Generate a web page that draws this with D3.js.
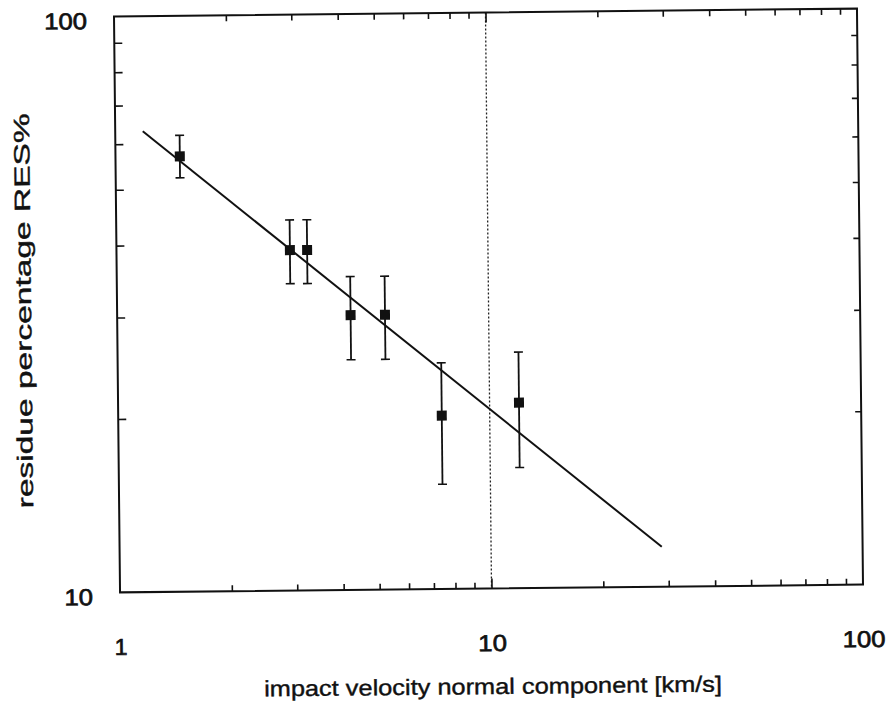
<!DOCTYPE html>
<html>
<head>
<meta charset="utf-8">
<script src="https://cdn.jsdelivr.net/npm/d3@7"></script>
<style>
  html, body { margin: 0; padding: 0; background: #fff; }
  svg { display: block; }
  text { font-family: "Liberation Sans", Arial, Helvetica, sans-serif; fill: #111; }
</style>
</head>
<body>
<svg id="chart" width="891" height="704"></svg>
<script>
// ---- data ----
const velocity = [1.49, 2.93, 3.26, 4.25, 5.26, 7.43, 12.0];   // km/s
const residue  = [57, 39, 39, 30, 30, 20, 21];                 // RES%
const errLow   = [52.3, 34.1, 34.1, 25.1, 25.1, 15.2, 16.2];
const errHigh  = [62, 44, 44, 35, 35, 24.7, 25.7];
const fitX     = [1.186, 28.8];
const fitY     = [63.1, 11.73];
const markerX  = [10];                                          // dotted vertical line
const xLabels  = [1, 10, 100];
const yLabels  = [10, 100];
const xMinor   = [2,3,4,5,6,7,8,9,20,30,40,50,60,70,80,90];
const yMinor   = [20,30,40,50,60,70,80,90];
const xTitle   = "impact velocity normal component [km/s]";
const yTitle   = "residue percentage RES%";

const L = 117, R = 860, T = 12.5, B = 588.5;
const svg = d3.select("#chart");
svg.append("rect").attr("width", 891).attr("height", 704).attr("fill", "#fff");
const g = svg.append("g").attr("transform", "rotate(-0.6, 488.5, 300.5)");

const x = d3.scaleLog().domain([1, 100]).range([L, R]);
const y = d3.scaleLog().domain([10, 100]).range([B, T]);

// dotted line at x = 10
g.selectAll("line.mark").data(markerX).enter().append("line")
  .attr("x1", d => x(d)).attr("x2", d => x(d))
  .attr("y1", T).attr("y2", B)
  .attr("stroke", "#222").attr("stroke-width", 1.3).attr("stroke-dasharray", "2,2");

// axes ticks (inward)
function styleAxis(sel) {
  sel.select(".domain").remove();
  sel.selectAll(".tick line").attr("stroke", "#111").attr("stroke-width", 1.6);
}
g.append("g").attr("transform", `translate(0,${B})`)
  .call(d3.axisBottom(x).tickValues(xMinor).tickSize(-6).tickFormat("")).call(styleAxis);
g.append("g").attr("transform", `translate(0,${T})`)
  .call(d3.axisTop(x).tickValues(xMinor).tickSize(-6).tickFormat("")).call(styleAxis);
g.append("g").attr("transform", `translate(0,${B})`)
  .call(d3.axisBottom(x).tickValues([10]).tickSize(-10).tickFormat("")).call(styleAxis);
g.append("g").attr("transform", `translate(0,${T})`)
  .call(d3.axisTop(x).tickValues([10]).tickSize(-10).tickFormat("")).call(styleAxis);
g.append("g").attr("transform", `translate(${L},0)`)
  .call(d3.axisLeft(y).tickValues(yMinor).tickSize(-8).tickFormat("")).call(styleAxis);
g.append("g").attr("transform", `translate(${R},0)`)
  .call(d3.axisRight(y).tickValues(yMinor).tickSize(-6).tickFormat("")).call(styleAxis);

// frame
g.append("rect").attr("x", L).attr("y", T).attr("width", R - L).attr("height", B - T)
  .attr("fill", "none").attr("stroke", "#111").attr("stroke-width", 2);

// tick labels
const xl = g.append("g").attr("transform", `translate(0,${B})`)
  .call(d3.axisBottom(x).tickValues(xLabels).tickSize(0).tickPadding(46).tickFormat(d3.format("d")));
xl.select(".domain").remove();
xl.selectAll("text").attr("font-size", 23).attr("fill", "#111")
  .attr("font-family", "Liberation Sans, Arial, sans-serif")
  .attr("dy", "0.72em");
const yl = g.append("g").attr("transform", `translate(${L},0)`)
  .call(d3.axisLeft(y).tickValues(yLabels).tickSize(0).tickPadding(27).tickFormat(d3.format("d")));
yl.select(".domain").remove();
yl.selectAll("text").attr("font-size", 23).attr("fill", "#111")
  .attr("font-family", "Liberation Sans, Arial, sans-serif")
  .attr("dy", "0.52em");
[xl, yl].forEach(s => s.selectAll("text").each(function(d) {
  const t = d3.select(this);
  t.attr("stroke", "#111").attr("stroke-width", 0.7);
  const w = this.getComputedTextLength();
  if (String(d).length > 1) t.attr("textLength", w * 1.12).attr("lengthAdjust", "spacingAndGlyphs");
}));

// fit line
g.append("path")
  .datum(fitX.map((v, i) => [v, fitY[i]]))
  .attr("d", d3.line().x(d => x(d[0])).y(d => y(d[1])))
  .attr("fill", "none").attr("stroke", "#111").attr("stroke-width", 2);

// error bars
const pts = velocity.map((v, i) => ({ v, r: residue[i], lo: errLow[i], hi: errHigh[i] }));
const eb = g.selectAll("g.eb").data(pts).enter().append("g");
eb.append("line").attr("x1", d => x(d.v)).attr("x2", d => x(d.v))
  .attr("y1", d => y(d.lo)).attr("y2", d => y(d.hi))
  .attr("stroke", "#111").attr("stroke-width", 1.8);
eb.append("line").attr("x1", d => x(d.v) - 4.5).attr("x2", d => x(d.v) + 4.5)
  .attr("y1", d => y(d.lo)).attr("y2", d => y(d.lo))
  .attr("stroke", "#111").attr("stroke-width", 1.6);
eb.append("line").attr("x1", d => x(d.v) - 4.5).attr("x2", d => x(d.v) + 4.5)
  .attr("y1", d => y(d.hi)).attr("y2", d => y(d.hi))
  .attr("stroke", "#111").attr("stroke-width", 1.6);
eb.append("rect").attr("x", d => x(d.v) - 5).attr("y", d => y(d.r) - 5)
  .attr("width", 10).attr("height", 10).attr("fill", "#111");

// axis titles
const xt = g.append("text").attr("x", 489).attr("y", 694)
  .attr("text-anchor", "middle").attr("font-size", 22)
  .attr("stroke", "#111").attr("stroke-width", 0.4).text(xTitle);
xt.attr("textLength", 458).attr("lengthAdjust", "spacingAndGlyphs");
const yt = g.append("text").attr("transform", "translate(31,306) rotate(-90)")
  .attr("text-anchor", "middle").attr("font-size", 22)
  .attr("stroke", "#111").attr("stroke-width", 0.4).text(yTitle);
yt.attr("textLength", 395).attr("lengthAdjust", "spacingAndGlyphs");
</script>
</body>
</html>
